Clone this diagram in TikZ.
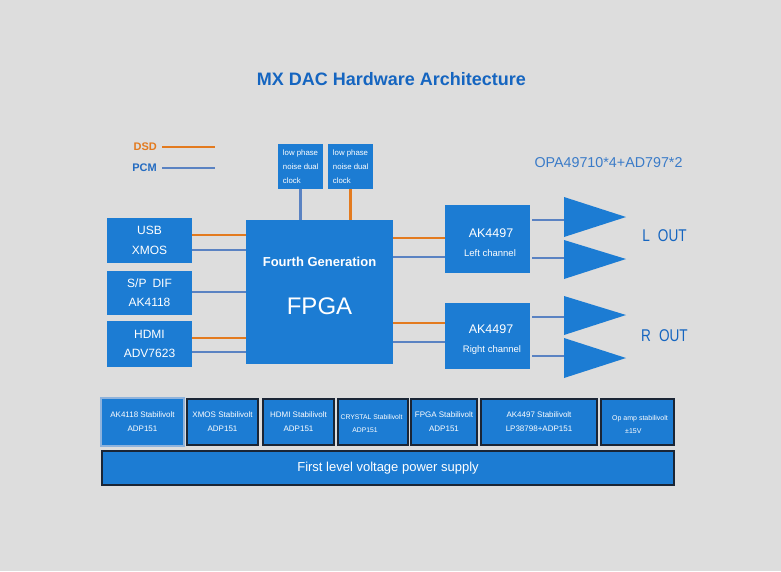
\documentclass[tikz,border=0pt]{standalone}
\usepackage{fontspec}
\setmainfont{Liberation Sans}
\newfontfamily\narrowf[FakeStretch=0.8]{Liberation Sans}
\definecolor{bgc}{HTML}{DDDDDD}
\definecolor{boxblue}{HTML}{1C7CD3}
\definecolor{titleblue}{HTML}{1565C0}
\definecolor{opablue}{HTML}{3A7BC8}
\definecolor{dsdc}{HTML}{E37A1E}
\definecolor{pcmc}{HTML}{5A82C2}
\definecolor{edgec}{HTML}{1A2535}
\definecolor{edgelight}{HTML}{8FB3DC}
\tikzset{
  blk/.style={fill=boxblue, draw=none, text=white, inner sep=0pt, align=center},
  pbox/.style={blk, draw=edgec, line width=1.2pt, minimum height=46pt},
  lbl/.style={text=white, inner sep=0pt, align=center},
  dsd/.style={draw=dsdc, line width=2.2pt},
  pcm/.style={draw=pcmc, line width=2.2pt},
  amp/.style={fill=boxblue},
  clkbox/.style={blk, minimum width=45pt, minimum height=45pt, align=left,
     font=\fontsize{7.8}{14}\selectfont},
  small/.style={font=\fontsize{8}{14}\selectfont},
  outl/.style={text=titleblue, inner sep=0pt, font=\narrowf\fontsize{17}{20}\selectfont}
}
\begin{document}
\begin{tikzpicture}[x=1pt,y=-1pt]
\fill[bgc] (0,0) rectangle (781,571);
\useasboundingbox (0,0) rectangle (781,571);

% title
\node[text=titleblue, font=\bfseries\fontsize{18}{20}\selectfont, inner sep=0pt] (title) at (391.5,79) {MX DAC Hardware Architecture};

% legend
\node[text=dsdc, font=\bfseries\fontsize{11}{13}\selectfont, inner sep=0pt, anchor=east] (dsdl) at (157,147) {DSD};
\node[text=titleblue!80!pcmc, font=\bfseries\fontsize{11}{13}\selectfont, inner sep=0pt, anchor=east] (pcml) at (157,168) {PCM};
\coordinate (dsde) at (215,147);
\coordinate (pcme) at (215,168);
\draw[dsd, line width=1.6pt] ([xshift=5pt]dsdl.east) -- (dsde);
\draw[pcm, line width=1.6pt] ([xshift=5pt]pcml.east) -- (pcme);

% OPA label
\node[text=opablue, font=\fontsize{14.3}{16}\selectfont, inner sep=0pt] (opa) at (608.5,163) {OPA49710*4+AD797*2};

% clocks
\node[clkbox] (clk1) at (300.5,166.5) {\hspace*{0.5pt}low phase\\\hspace*{0.5pt}noise dual\\\hspace*{0.5pt}clock\hfill\ };
\node[clkbox] (clk2) at (350.5,166.5) {\hspace*{0.5pt}low phase\\\hspace*{0.5pt}noise dual\\\hspace*{0.5pt}clock\hfill\ };

% inputs
\node[blk, minimum width=85pt, minimum height=45pt, font=\fontsize{12}{20}\selectfont] (usb) at (149.5,240.5) {USB\\XMOS};
\node[blk, minimum width=85pt, minimum height=44pt, font=\fontsize{12}{19}\selectfont] (spdif) at (149.5,293) {S/P\hspace{6pt}DIF\\AK4118};
\node[blk, minimum width=85pt, minimum height=46pt, font=\fontsize{12}{19}\selectfont] (hdmi) at (149.5,344) {HDMI\\ADV7623};

% FPGA
\node[blk, minimum width=147pt, minimum height=144pt] (fpga) at (319.5,292) {};
\node[lbl, font=\bfseries\fontsize{13}{15}\selectfont] (fpgat) at (319.5,262) {Fourth Generation};
\node[lbl, font=\fontsize{24}{28}\selectfont] (fpgan) at (319.5,306) {FPGA};

% DACs
\node[blk, minimum width=85pt, minimum height=68pt] (akl) at (487.5,239) {};
\node[lbl, font=\fontsize{12.5}{14}\selectfont] (aklt) at (491,233) {AK4497};
\node[lbl, font=\fontsize{9.5}{11}\selectfont] (akls) at (490,253) {Left channel};
\node[blk, minimum width=85pt, minimum height=66pt] (akr) at (487.5,336) {};
\node[lbl, font=\fontsize{12.5}{14}\selectfont] (akrt) at (491,329) {AK4497};
\node[lbl, font=\fontsize{9.5}{11}\selectfont] (akrs) at (492,350) {Right channel};

% clock connectors
\draw[pcm] (clk1.south) -- (clk1.south |- fpga.north);
\draw[dsd] (clk2.south) -- (clk2.south |- fpga.north);

% input connectors
\draw[dsd] (usb.east |- 0,235) -- (fpga.west |- 0,235);
\draw[pcm] (usb.east |- 0,250) -- (fpga.west |- 0,250);
\draw[pcm] (spdif.east |- 0,292) -- (fpga.west |- 0,292);
\draw[dsd] (hdmi.east |- 0,338) -- (fpga.west |- 0,338);
\draw[pcm] (hdmi.east |- 0,352) -- (fpga.west |- 0,352);

% FPGA to DAC
\draw[dsd] (fpga.east |- 0,238) -- (akl.west |- 0,238);
\draw[pcm] (fpga.east |- 0,257) -- (akl.west |- 0,257);
\draw[dsd] (fpga.east |- 0,323) -- (akr.west |- 0,323);
\draw[pcm] (fpga.east |- 0,342) -- (akr.west |- 0,342);

% amplifiers
\coordinate (a1) at (564,220);
\coordinate (a2) at (564,258);
\coordinate (a3) at (564,317);
\coordinate (a4) at (564,356);
\fill[amp] (564,197) -- (626,217) -- (564,237) -- cycle;
\fill[amp] (564,240) -- (626,259) -- (564,279) -- cycle;
\fill[amp] (564,296) -- (626,315) -- (564,335) -- cycle;
\fill[amp] (564,338) -- (626,358) -- (564,378) -- cycle;
\draw[pcm] ([xshift=2pt]akl.east |- a1) -- (a1);
\draw[pcm] ([xshift=2pt]akl.east |- a2) -- (a2);
\draw[pcm] ([xshift=2pt]akr.east |- a3) -- (a3);
\draw[pcm] ([xshift=2pt]akr.east |- a4) -- (a4);

\node[outl] (lout) at (664.5,236) {L\hspace{8pt}OUT};
\node[outl] (rout) at (664.5,336) {R\hspace{8pt}OUT};

% power row
\node[pbox, draw=edgelight, minimum width=83pt, minimum height=48pt, small] (p1) at (142.5,422) {AK4118 Stabilivolt\\ADP151};
\node[pbox, minimum width=71pt, small] (p2) at (222.5,422) {XMOS Stabilivolt\\ADP151};
\node[pbox, minimum width=71pt, small] (p3) at (298.5,422) {HDMI Stabilivolt\\ADP151};
\node[pbox, minimum width=70pt] (p4) at (373,422) {};
\node[lbl, anchor=west, font=\fontsize{6.8}{8}\selectfont] (p4a) at (340.5,417) {CRYSTAL Stabilivolt};
\node[lbl, font=\fontsize{6.8}{8}\selectfont] (p4b) at (365,430) {ADP151};
\node[pbox, minimum width=66pt, small] (p5) at (444,422) {FPGA Stabilivolt\\ADP151};
\node[pbox, minimum width=116pt, small] (p6) at (539,422) {AK4497 Stabilivolt\\LP38798+ADP151};
\node[pbox, minimum width=73pt] (p7) at (637.5,422) {};
\node[lbl, font=\fontsize{7}{8}\selectfont] (p7a) at (640,419) {Op amp stabilivolt};
\node[lbl, anchor=west, font=\fontsize{7}{8}\selectfont] (p7b) at (625,431) {±15V};
\node[pbox, minimum width=572pt, minimum height=34pt, font=\fontsize{13}{15}\selectfont] (psu) at (388,468) {First level voltage power supply};
\end{tikzpicture}
\end{document}
